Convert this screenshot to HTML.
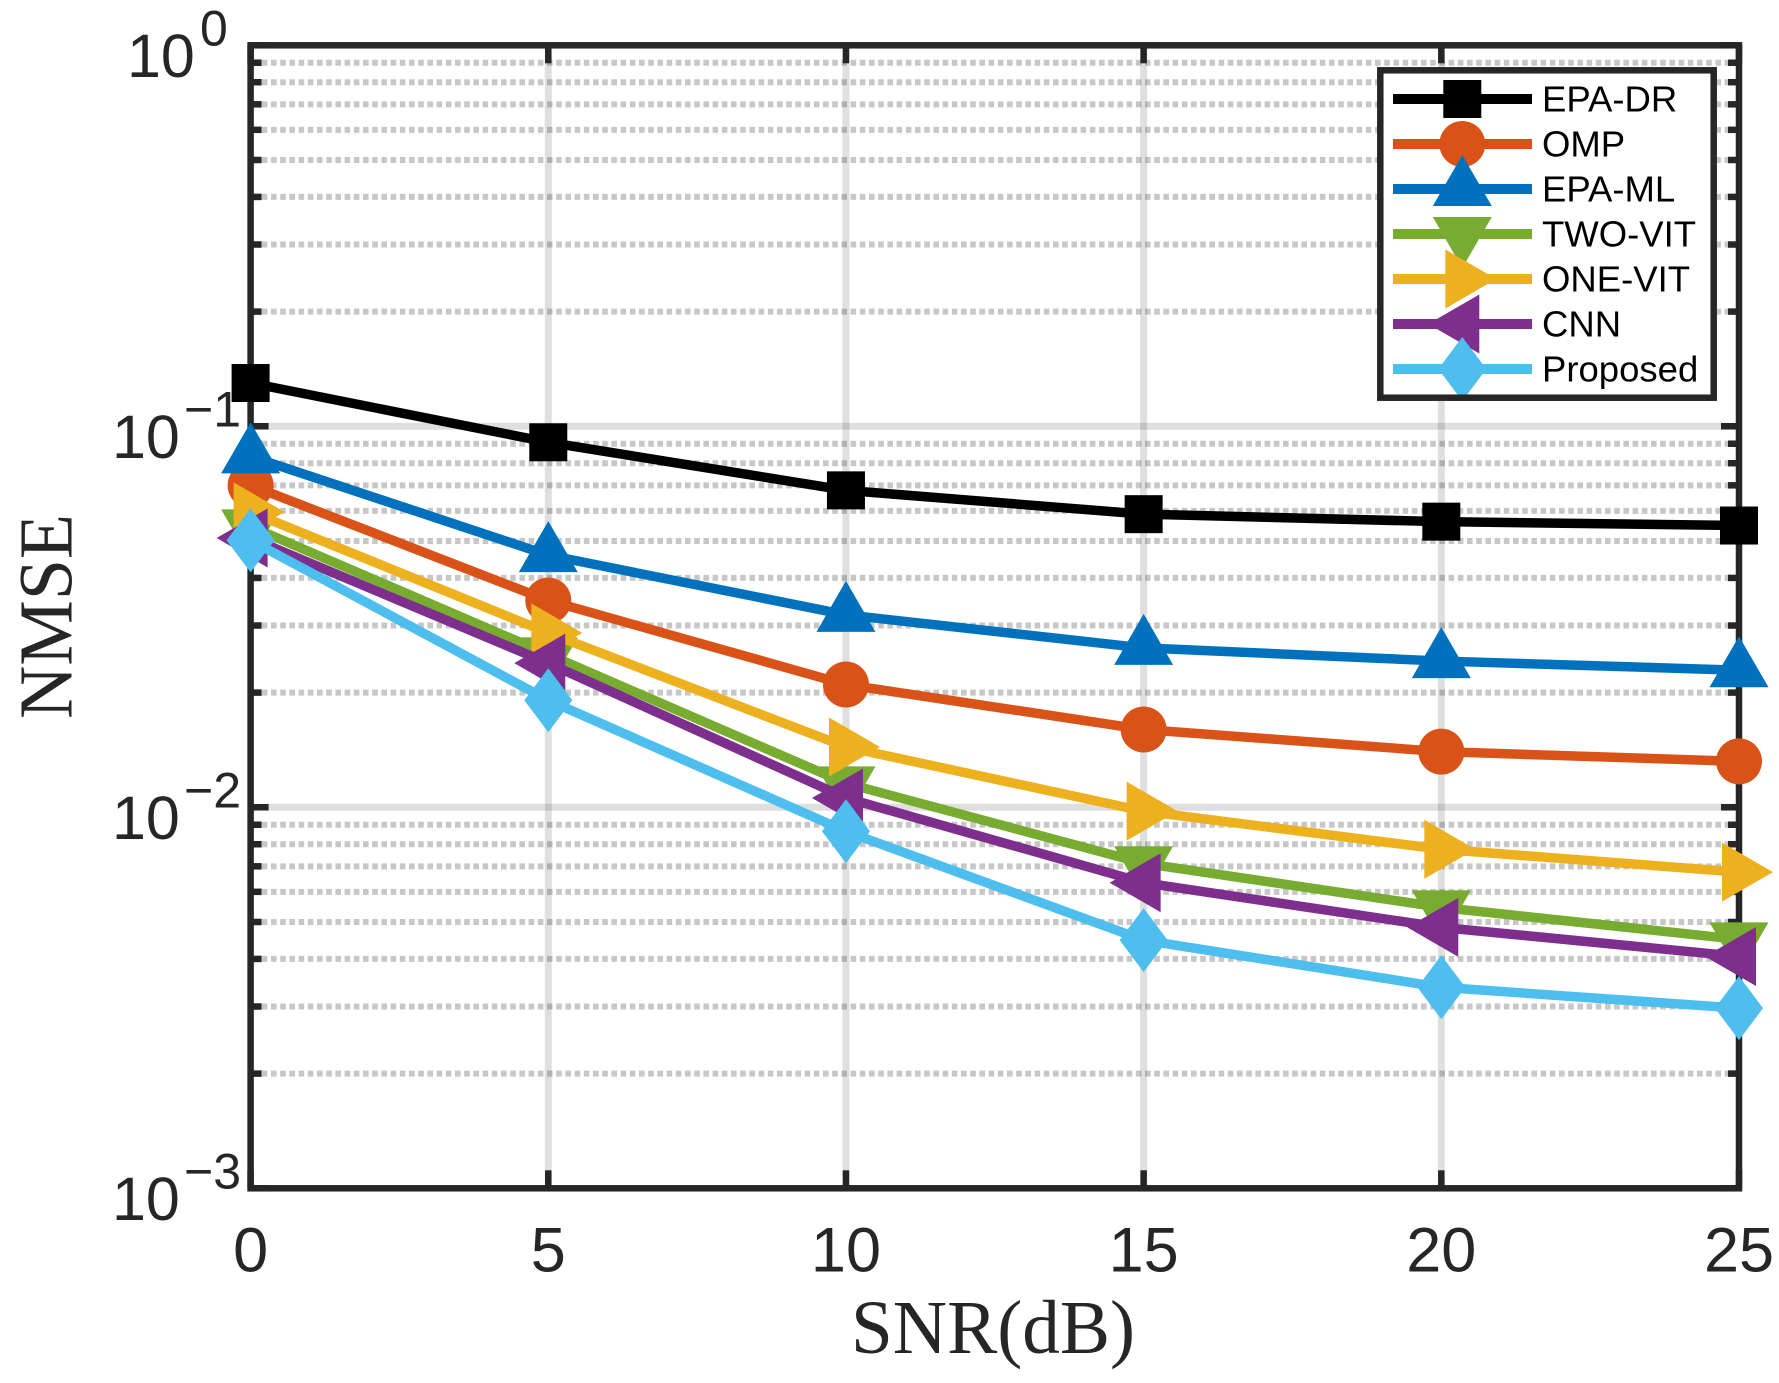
<!DOCTYPE html>
<html lang="en">
<head>
<meta charset="utf-8">
<title>NMSE vs SNR</title>
<style>
  html, body { margin: 0; padding: 0; background: #fff; }
  svg { display: block; }
  text { font-family: "Liberation Sans", sans-serif; }
  .serif { font-family: "Liberation Serif", serif; }
</style>
</head>
<body>
<svg id="chart" xmlns="http://www.w3.org/2000/svg" width="1779" height="1383" viewBox="0 0 1779 1383">
  <rect x="0" y="0" width="1779" height="1383" fill="#fff"/>
  <g id="grid"></g>
  <g id="axes"></g>
  <text class="serif" transform="translate(71.7,719) rotate(-90)" font-size="76" fill="#262626" textLength="205" lengthAdjust="spacingAndGlyphs">NMSE</text>
  <text class="serif" x="851" y="1353" font-size="76" fill="#262626" textLength="284" lengthAdjust="spacingAndGlyphs">SNR(dB)</text>
  <g id="series"></g>
  <g id="legend"></g>
</svg>
<script>
// Chart data
const snrValues = [0, 5, 10, 15, 20, 25];
const xTickLabels = ['0', '5', '10', '15', '20', '25'];
const yDecades = [1, 0.1, 0.01, 0.001];
const yExponentLabels = ['0', '\u22121', '\u22122', '\u22123'];
const seriesNames = ['EPA-DR', 'OMP', 'EPA-ML', 'TWO-VIT', 'ONE-VIT', 'CNN', 'Proposed'];
const epaDr = [0.1299, 0.0908, 0.0679, 0.0588, 0.0562, 0.0549];
const omp = [0.0700, 0.0349, 0.0210, 0.0160, 0.0140, 0.0132];
const epaMl = [0.0834, 0.0459, 0.0320, 0.0262, 0.0242, 0.0229];
const twoVit = [0.0546, 0.0252, 0.01156, 0.00713, 0.00546, 0.00450];
const oneVit = [0.0596, 0.0287, 0.0144, 0.00977, 0.00776, 0.00676];
const cnn = [0.0509, 0.0239, 0.01058, 0.00634, 0.00484, 0.00406];
const proposed = [0.0502, 0.0191, 0.00865, 0.00448, 0.00337, 0.00297];

const seriesValues = [epaDr, omp, epaMl, twoVit, oneVit, cnn, proposed];
const seriesColors = ['#000000', '#D95319', '#0072BD', '#77AC30', '#EDB120', '#7E2F8E', '#4DBEEE'];
const seriesMarkers = ['square', 'circle', 'up', 'down', 'right', 'left', 'diamond'];

// Axis functions
const plotLeft = 250.6, plotRight = 1739, plotTop = 45.3, plotBottom = 1188.3;
const xMin = 0, xMax = 25, decadeCount = 3;
function xPos(v) { return plotLeft + (v - xMin) / (xMax - xMin) * (plotRight - plotLeft); }
function yPos(v) { return plotTop - Math.log10(v) * (plotBottom - plotTop) / decadeCount; }

const NS = 'http://www.w3.org/2000/svg';
const inkColor = '#262626';
function make(tag, parent, attrs) {
  const el = document.createElementNS(NS, tag);
  for (const k in attrs) el.setAttribute(k, attrs[k]);
  parent.appendChild(el);
  return el;
}
function slug(s) { return s.toLowerCase().replace(/[^a-z0-9]+/g, '-'); }

const gridLayer = document.getElementById('grid');
const axesLayer = document.getElementById('axes');
const seriesLayer = document.getElementById('series');
const legendLayer = document.getElementById('legend');

// Grid lines
snrValues.forEach(function (v, i) {
  if (i === 0 || i === snrValues.length - 1) return;
  const g = make('line', gridLayer, { x1: xPos(v), x2: xPos(v), y1: plotTop, y2: plotBottom, stroke: inkColor, 'stroke-opacity': 0.15, 'stroke-width': 7 });
  
  
});
yDecades.forEach(function (d, i) {
  if (i > 0 && i < yDecades.length - 1) {
    const g = make('line', gridLayer, { x1: plotLeft, x2: plotRight, y1: yPos(d), y2: yPos(d), stroke: inkColor, 'stroke-opacity': 0.15, 'stroke-width': 7 });
    
    
  }
  if (i < yDecades.length - 1) {
    for (let m = 2; m <= 9; m++) {
      const v = yDecades[i + 1] * m;
      const g = make('line', gridLayer, { x1: plotLeft, x2: plotRight, y1: yPos(v), y2: yPos(v), stroke: inkColor, 'stroke-opacity': 0.26, 'stroke-width': 6, 'stroke-dasharray': '5.6 3.6', 'stroke-dashoffset': -2 });
      
      
      [[plotLeft, plotLeft + 11], [plotRight - 11, plotRight]].forEach(function (p) {
        const t = make('line', axesLayer, { x1: p[0], x2: p[1], y1: yPos(v), y2: yPos(v), stroke: inkColor, 'stroke-width': 6.5 });
        
        
      });
    }
  }
});

// Major ticks and labels
snrValues.forEach(function (v, i) {
  const x = xPos(v);
  [[plotBottom, plotBottom - 18], [plotTop, plotTop + 18]].forEach(function (p) {
    const t = make('line', axesLayer, { x1: x, x2: x, y1: p[0], y2: p[1], stroke: inkColor, 'stroke-width': 6.5 });
    
    
  });
  const label = make('text', axesLayer, { x: x, y: 1271.5, 'text-anchor': 'middle', 'font-size': 63, fill: inkColor });
  label.textContent = xTickLabels[i];
  
  
});
yDecades.forEach(function (d, i) {
  const y = yPos(d);
  [[plotLeft, plotLeft + 18], [plotRight - 18, plotRight]].forEach(function (p) {
    const t = make('line', axesLayer, { x1: p[0], x2: p[1], y1: y, y2: y, stroke: inkColor, 'stroke-width': 6.5 });
    
    
  });
  const negative = yExponentLabels[i].length > 1;
  const base = make('text', axesLayer, { x: negative ? 112 : 127, y: y + 31.5, 'font-size': 61, fill: inkColor });
  base.textContent = '10';
  
  
  const exp = make('text', axesLayer, { x: negative ? 184 : 200, y: y, 'font-size': 50, fill: inkColor });
  exp.textContent = yExponentLabels[i];
  
  
});

// Spine box
const spine = make('rect', axesLayer, { x: plotLeft, y: plotTop, width: plotRight - plotLeft, height: plotBottom - plotTop, fill: 'none', stroke: inkColor, 'stroke-width': 6.5 });



// Marker drawing
function drawMarker(parent, kind, x, y, color) {
  let el;
  if (kind === 'square') {
    el = make('rect', parent, { x: x - 19, y: y - 19, width: 38, height: 38, fill: color });
  } else if (kind === 'circle') {
    el = make('circle', parent, { cx: x, cy: y, r: 23, fill: color });
  } else {
    let pts;
    if (kind === 'up') pts = [[0, -34], [29.5, 17], [-29.5, 17]];
    if (kind === 'down') pts = [[0, 34], [29.5, -17], [-29.5, -17]];
    if (kind === 'right') pts = [[34, 0], [-17, 29.5], [-17, -29.5]];
    if (kind === 'left') pts = [[-34, 0], [17, 29.5], [17, -29.5]];
    if (kind === 'diamond') pts = [[0, -32], [24, 0], [0, 32], [-24, 0]];
    el = make('polygon', parent, { points: pts.map(function (p) { return (x + p[0]) + ',' + (y + p[1]); }).join(' '), fill: color });
  }
  return el;
}

// Series
seriesNames.forEach(function (name, s) {
  const values = seriesValues[s];
  const g = make('g', seriesLayer, {});
  
  
  const line = make('polyline', g, {
    points: snrValues.map(function (v, i) { return xPos(v) + ',' + yPos(values[i]); }).join(' '),
    fill: 'none', stroke: seriesColors[s], 'stroke-width': 9.5, 'stroke-linejoin': 'round'
  });
  
  
  snrValues.forEach(function (v, i) {
    const mark = drawMarker(g, seriesMarkers[s], xPos(v), yPos(values[i]), seriesColors[s]);
    
    
  });
});

// Legend
const legendBg = make('rect', legendLayer, { x: 1380.3, y: 70.3, width: 333.4, height: 327.4, fill: '#fff' });


seriesNames.forEach(function (name, s) {
  const rowY = 99 + s * 45;
  const entry = make('g', legendLayer, {});
  
  
  const sample = make('line', entry, { x1: 1393, x2: 1532, y1: rowY, y2: rowY, stroke: seriesColors[s], 'stroke-width': 10 });
  
  
  const mark = drawMarker(entry, seriesMarkers[s], 1462.3, rowY, seriesColors[s]);
  
  
  const text = make('text', entry, { x: 1542, y: rowY + 12.7, 'font-size': 36.5, fill: '#000' });
  text.textContent = name;
  
  
});
const legendBorder = make('rect', legendLayer, { x: 1380.3, y: 70.3, width: 333.4, height: 327.4, fill: 'none', stroke: inkColor, 'stroke-width': 6.5 });


</script>
</body>
</html>
